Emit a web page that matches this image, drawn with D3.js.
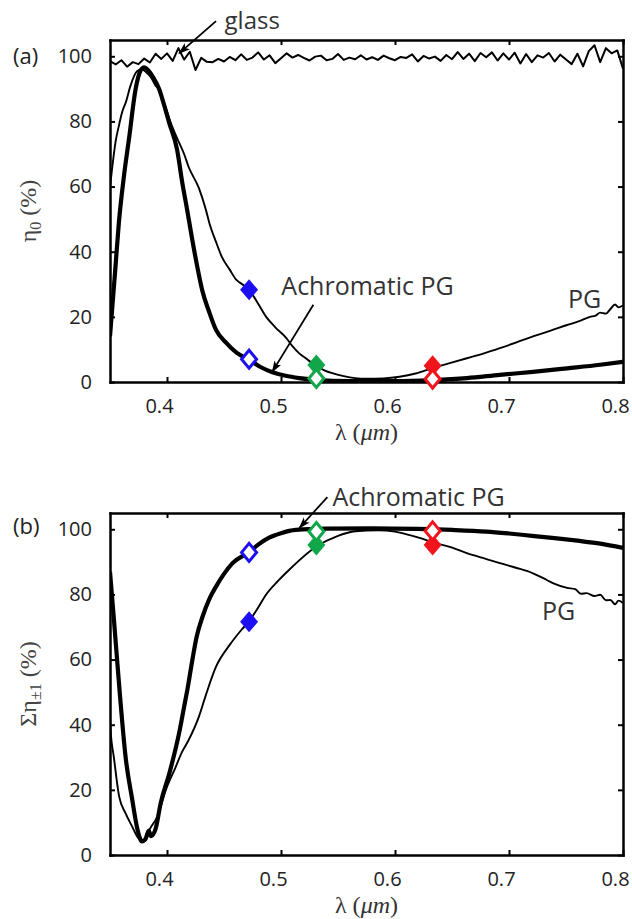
<!DOCTYPE html>
<html>
<head>
<meta charset="utf-8">
<script src="https://cdn.jsdelivr.net/npm/d3@7"></script>
<style>
  body { margin: 0; background: #fff; }
</style>
</head>
<body>
<svg id="fig" width="632" height="919"></svg>
<script>
// Diffraction efficiency of the PG / achromatic PG

const xTicks = [0.4, 0.5, 0.6, 0.7, 0.8];
const yTicks = [0, 20, 40, 60, 80, 100];

// (a) zero-order transmittance of plain glass, sampled every 5 nm
const glassWl = d3.range(0, 91).map(i => 0.35 + i * 0.005);
const glassEta = [
  98.5, 97.5, 98.8, 96.8, 98.2, 97.6, 99.3, 98.1, 100.8, 99.2,
  100.9, 98.6, 102.5, 99.0, 101.4, 95.8, 99.5, 98.3, 98.2, 99.2,
  98.4, 99.8, 98.8, 100.6, 98.9, 99.6, 101.2, 99.0, 100.3, 97.9,
  99.4, 100.9, 99.6, 100.4, 99.5, 98.7, 99.9, 100.2, 98.8, 99.2,
  100.7, 98.9, 99.6, 99.1, 100.3, 99.0, 99.7, 98.9, 100.2, 99.4,
  98.8, 99.8, 99.5, 100.6, 98.4, 100.1, 99.3, 99.9, 98.6, 100.4,
  99.1, 101.3, 99.2, 100.8, 98.5, 101.0, 99.7, 101.2, 98.7, 100.9,
  99.0, 101.1, 97.8, 100.7, 98.2, 100.3, 99.6, 101.0, 98.4, 100.5,
  99.0, 97.6, 100.8, 96.9, 101.6, 103.4, 98.2, 102.5, 100.9, 101.8,
  96.2
];

// (a) zero-order efficiency, PG (thin) and achromatic PG (thick): [lambda um, %]
const eta0PG = [
  [0.35, 60], [0.352, 66], [0.355, 74], [0.358, 79], [0.3605, 82.7], [0.364, 86],
  [0.368, 91], [0.3737, 95.4], [0.378, 96], [0.382, 95], [0.386, 93.5], [0.39, 91],
  [0.393, 90], [0.397, 86], [0.40, 83], [0.405, 78], [0.4106, 73.5], [0.415, 70],
  [0.419, 66], [0.428, 59.5], [0.434, 53], [0.437, 49], [0.443, 43], [0.448, 38.5],
  [0.455, 34.5], [0.4607, 31.4], [0.466, 30], [0.472, 28.3], [0.48, 24], [0.487, 20],
  [0.495, 16.8], [0.5047, 13.5], [0.51, 11], [0.516, 8.8], [0.522, 7.2], [0.531, 4.9],
  [0.538, 3.6], [0.545, 2.7], [0.555, 1.8], [0.565, 1.2], [0.575, 1.0], [0.59, 1.1],
  [0.604, 1.6], [0.618, 2.6], [0.632, 4.2], [0.648, 5.8], [0.663, 7.3], [0.678, 8.8],
  [0.692, 10.4], [0.706, 12.1], [0.721, 14], [0.736, 15.7], [0.751, 17.5], [0.761, 18.6],
  [0.771, 20], [0.776, 20.4], [0.78, 21.3], [0.785, 21.0], [0.789, 22.4], [0.793, 23.8],
  [0.796, 22.9], [0.8, 23.5]
];
const eta0APG = [
  [0.35, 14], [0.3545, 34], [0.3578, 49], [0.3625, 64], [0.3666, 74.5], [0.3725, 90],
  [0.376, 95], [0.3798, 96.6], [0.384, 95.5], [0.388, 93.5], [0.393, 90], [0.3975, 85],
  [0.4018, 79.7], [0.4088, 71.4], [0.4135, 61], [0.4176, 53], [0.422, 44], [0.4265, 35.5],
  [0.431, 28], [0.437, 21.5], [0.443, 16], [0.452, 12], [0.461, 9], [0.472, 6.8],
  [0.482, 4.6], [0.4925, 3], [0.504, 1.9], [0.516, 1.2], [0.53, 0.7], [0.56, 0.3],
  [0.6, 0.3], [0.633, 0.6], [0.663, 1.2], [0.692, 2.2], [0.721, 3.1], [0.751, 4.2],
  [0.78, 5.3], [0.8, 6.2]
];

// (b) first-order efficiency sum
const sumPG = [
  [0.35, 42], [0.3505, 38.4], [0.3534, 30], [0.358, 18], [0.3637, 12.8], [0.3695, 8.7],
  [0.374, 5.6], [0.377, 4.6], [0.381, 5], [0.385, 8], [0.3915, 11.8], [0.399, 20],
  [0.4076, 27], [0.413, 31.5], [0.419, 35.3], [0.428, 42.5], [0.434, 49], [0.443, 57.8],
  [0.455, 64.5], [0.465, 69], [0.472, 71.8], [0.48, 76], [0.487, 80], [0.497, 84],
  [0.507, 87.5], [0.531, 94.7], [0.55, 98],
  [0.565, 99.4], [0.585, 99.7], [0.6, 99.3], [0.613, 98.2], [0.623, 97.2], [0.633, 96],
  [0.648, 94.6], [0.663, 92.7], [0.677, 91.2], [0.692, 89.6], [0.706, 88.2], [0.721, 86.5],
  [0.73, 85], [0.739, 83.4], [0.751, 82], [0.758, 81.6], [0.763, 80.2], [0.768, 80.4],
  [0.775, 79.5], [0.78, 79.9], [0.785, 78.2], [0.789, 78.3], [0.793, 77], [0.796, 78.1],
  [0.8, 77.4]
];
const sumAPG = [
  [0.35, 87], [0.3535, 72], [0.3585, 50], [0.3637, 30], [0.3695, 17], [0.374, 8],
  [0.378, 4.2], [0.381, 4.8], [0.384, 7.5], [0.386, 5.8], [0.39, 8], [0.3945, 16],
  [0.402, 25], [0.4106, 37.4], [0.415, 45.5], [0.418, 51], [0.4223, 60], [0.426, 67],
  [0.431, 73], [0.437, 78.5], [0.443, 82.4], [0.45, 86.3], [0.4575, 89.6], [0.472, 93],
  [0.48, 95.3], [0.49, 97.5], [0.5, 98.8], [0.513, 99.8], [0.54, 100.2], [0.58, 100.3],
  [0.62, 100.1], [0.65, 99.8], [0.68, 99.3], [0.7, 98.7], [0.72, 98], [0.74, 97.3],
  [0.76, 96.5], [0.78, 95.6], [0.8, 94.3]
];

// laser wavelengths and measured points (filled = PG, open = achromatic PG)
const laserWl = [0.472, 0.531, 0.633];
const laserColor = ['#1c10f2', '#12a64a', '#f0141c'];
const eta0PGpts = [28.3, 5.2, 5.0];
const eta0APGpts = [7.0, 1.1, 0.9];
const sumPGpts = [71.6, 95.2, 95.2];
const sumAPGpts = [92.9, 99.3, 99.5];

const svg = d3.select('#fig');
const sans = '"Open Sans", sans-serif';
const serif = '"Liberation Serif", "Times New Roman", serif';

const x = d3.scaleLinear().domain([0.35, 0.8]).range([110, 623]);

svg.append('defs').append('marker')
  .attr('id', 'ah')
  .attr('viewBox', '0 0 12 8')
  .attr('refX', 11).attr('refY', 4)
  .attr('markerWidth', 12).attr('markerHeight', 8)
  .attr('markerUnits', 'userSpaceOnUse')
  .attr('orient', 'auto')
  .append('path')
  .attr('d', 'M0,0 L12,4 L0,8 L3,4Z')
  .attr('fill', '#000');

function diamond(w, h) {
  return `M0,${-h}L${w},0L0,${h}L${-w},0Z`;
}

function drawPanel(id, top, bottom) {
  const y = d3.scaleLinear().domain([0, 105]).range([bottom, top]);

  svg.append('clipPath').attr('id', 'clip' + id)
    .append('rect')
    .attr('x', x.range()[0]).attr('y', top)
    .attr('width', x.range()[1] - x.range()[0]).attr('height', bottom - top);

  const axes = svg.append('g');
  axes.append('g').attr('transform', `translate(0,${bottom})`)
    .call(d3.axisBottom(x).tickValues(xTicks).tickFormat(d3.format('.1f'))
      .tickSize(-5).tickSizeOuter(0).tickPadding(17))
    .selectAll('.tick text').attr('dx', -8);
  axes.append('g').attr('transform', `translate(0,${top})`)
    .call(d3.axisTop(x).tickValues(xTicks).tickFormat(() => '')
      .tickSize(-5).tickSizeOuter(0));
  axes.append('g').attr('transform', `translate(${x.range()[0]},0)`)
    .call(d3.axisLeft(y).tickValues(yTicks).tickSize(-5).tickSizeOuter(0).tickPadding(18));
  axes.append('g').attr('transform', `translate(${x.range()[1]},0)`)
    .call(d3.axisRight(y).tickValues(yTicks).tickFormat(() => '')
      .tickSize(-5).tickSizeOuter(0));

  axes.selectAll('.domain').attr('stroke', '#000').attr('stroke-width', 2.5)
    .attr('stroke-linecap', 'square');
  axes.selectAll('.tick line').attr('stroke', '#000').attr('stroke-width', 2);
  axes.selectAll('.tick text')
    .attr('font-family', sans).attr('font-size', 20).attr('fill', '#222');

  const plot = svg.append('g').attr('clip-path', `url(#clip${id})`);
  return { y, plot };
}

function curve(plot, y, data, width, smooth) {
  const ln = d3.line().x(d => x(d[0])).y(d => y(d[1]))
    .curve(smooth ? d3.curveMonotoneX : d3.curveLinear);
  plot.append('path')
    .datum(data)
    .attr('d', ln)
    .attr('fill', 'none')
    .attr('stroke', '#000')
    .attr('stroke-width', width)
    .attr('stroke-linejoin', 'round');
}

function points(y, filled, open) {
  const g = svg.append('g');
  g.selectAll('path.filled')
    .data(laserWl)
    .join('path')
    .attr('class', 'filled')
    .attr('transform', (d, i) => `translate(${x(d)},${y(filled[i])})`)
    .attr('d', diamond(9, 10.5))
    .attr('fill', (d, i) => laserColor[i]);
  g.selectAll('path.open')
    .data(laserWl)
    .join('path')
    .attr('class', 'open')
    .attr('transform', (d, i) => `translate(${x(d)},${y(open[i])})`)
    .attr('d', diamond(7.5, 9))
    .attr('fill', '#fff')
    .attr('stroke', (d, i) => laserColor[i])
    .attr('stroke-width', 3);
}

function note(y, text, wl, v, size) {
  svg.append('text')
    .attr('x', x(wl)).attr('y', y(v))
    .attr('font-family', sans).attr('font-size', size || 25).attr('fill', '#333')
    .text(text);
}

function arrow(y, from, to) {
  svg.append('line')
    .attr('x1', x(from[0])).attr('y1', y(from[1]))
    .attr('x2', x(to[0])).attr('y2', y(to[1]))
    .attr('stroke', '#000').attr('stroke-width', 1.8)
    .attr('marker-end', 'url(#ah)');
}

function xLabel(baseline) {
  const t = svg.append('text')
    .attr('x', (x.range()[0] + x.range()[1]) / 2).attr('y', baseline)
    .attr('text-anchor', 'middle')
    .attr('font-family', serif).attr('font-size', 24).attr('fill', '#333');
  t.append('tspan').text('λ (');
  t.append('tspan').attr('font-style', 'italic').text('μm');
  t.append('tspan').text(')');
}

function yLabel(cy, parts) {
  const t = svg.append('text')
    .attr('transform', `translate(36,${cy}) rotate(-90)`)
    .attr('text-anchor', 'middle')
    .attr('font-family', serif).attr('font-size', 24).attr('fill', '#444');
  parts.forEach(p => {
    t.append('tspan').attr('dy', p.dy || 0)
      .attr('font-size', p.size || 24).text(p.text);
  });
}

function panelTag(text, baseline) {
  svg.append('text')
    .attr('x', 13).attr('y', baseline)
    .attr('font-family', sans).attr('font-size', 22).attr('fill', '#222')
    .text(text);
}

// ---- panel (a)
const a = drawPanel('a', 40, 382);
curve(a.plot, a.y, glassWl.map((w, i) => [w, glassEta[i]]), 2, false);
curve(a.plot, a.y, eta0PG, 1.9, true);
curve(a.plot, a.y, eta0APG, 4.2, true);
points(a.y, eta0PGpts, eta0APGpts);
note(a.y, 'glass', 0.4505, 108.4, 24);
arrow(a.y, [0.443, 110.8], [0.4106, 100.9]);
note(a.y, 'Achromatic PG', 0.5003, 26.6);
arrow(a.y, [0.5284, 23.7], [0.4923, 3.1]);
note(a.y, 'PG', 0.7518, 22.6);
xLabel(440);
yLabel(211, [{ text: 'η' }, { text: '0', size: 16, dy: 5 }, { text: ' (%)', dy: -5 }]);
panelTag('(a)', 64);

// ---- panel (b)
const b = drawPanel('b', 513, 855);
curve(b.plot, b.y, sumPG, 1.9, true);
curve(b.plot, b.y, sumAPG, 4.2, true);
points(b.y, sumPGpts, sumAPGpts);
note(b.y, 'Achromatic PG', 0.5451, 107.3);
arrow(b.y, [0.5407, 109.9], [0.5161, 100.4]);
note(b.y, 'PG', 0.729, 72.3);
xLabel(913);
yLabel(684, [{ text: 'Ση' }, { text: '±1', size: 16, dy: 5 }, { text: ' (%)', dy: -5 }]);
panelTag('(b)', 534);
</script>
</body>
</html>
